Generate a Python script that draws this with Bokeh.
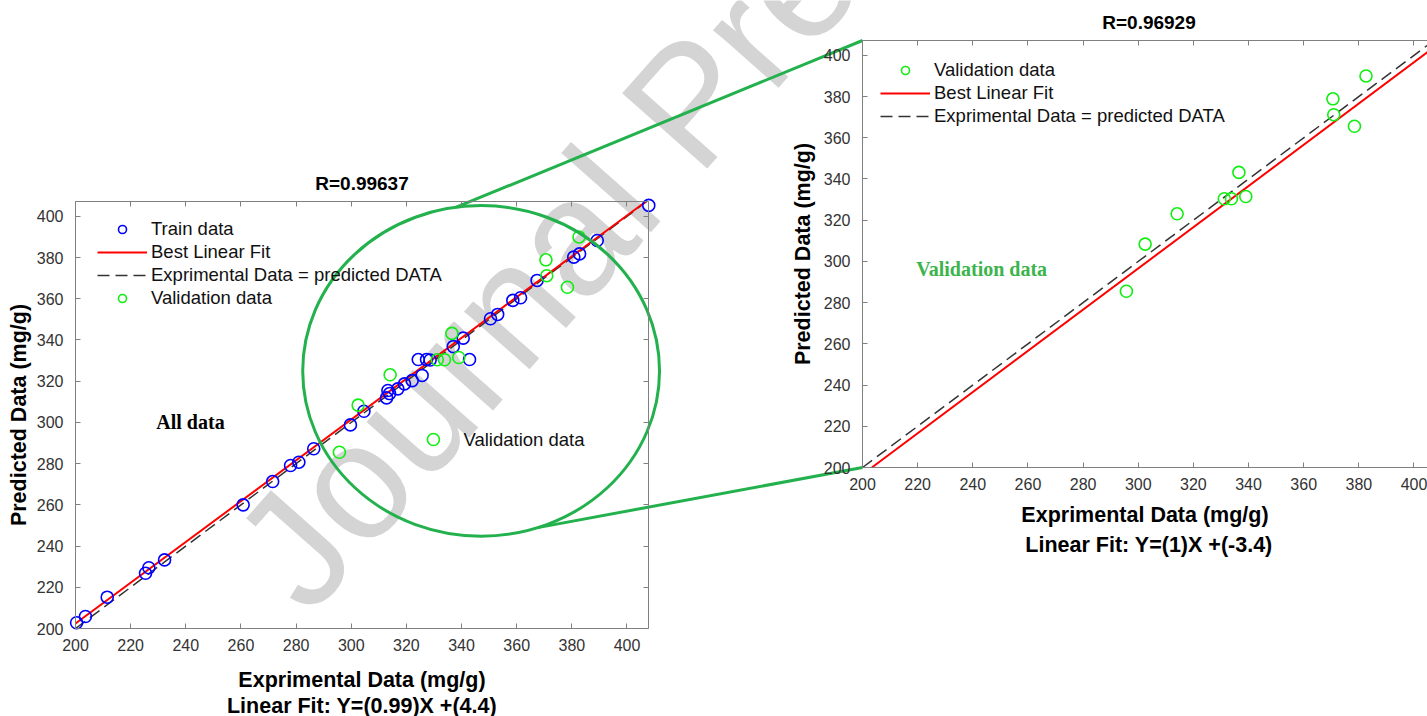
import math

from bokeh.embed import file_html
from bokeh.models import (FixedTicker, Grid, Label, Legend, LegendItem, LinearAxis,
                          Range1d)
from bokeh.plotting import figure
from bokeh.resources import INLINE
import numpy as np

# ---------------------------------------------------------------- data
# Training set: experimental vs. predicted uptake (mg/g)
TRAIN_X = [200.4, 203.6, 211.5, 225.4, 226.6, 232.3, 260.8, 271.5, 278.0, 281.0,
           286.4, 299.7, 304.6, 312.8, 313.3, 313.9, 316.9, 319.3, 322.1, 324.3,
           325.7, 327.3, 328.6, 337.0, 340.6, 342.9, 350.5, 353.1, 358.6, 361.4,
           367.4, 380.7, 382.8, 389.2, 407.9]
TRAIN_Y = [202.8, 205.8, 215.2, 226.8, 229.5, 233.3, 260.0, 271.3, 279.1, 280.7,
           287.2, 298.8, 305.4, 311.9, 315.5, 314.0, 316.3, 318.7, 320.3, 330.5,
           322.8, 330.5, 330.3, 336.8, 340.9, 330.5, 350.3, 352.4, 359.2, 360.5,
           368.9, 380.2, 381.8, 388.3, 405.3]

# Validation set
VAL_X = [295.7, 302.5, 314.1, 331.2, 333.8, 336.5, 339.0, 370.6, 370.9, 378.4, 382.6]
VAL_Y = [285.5, 308.4, 323.1, 330.4, 330.4, 343.2, 331.5, 378.9, 371.2, 365.6, 390.0]

TICKS = [200, 220, 240, 260, 280, 300, 320, 340, 360, 380, 400]
X_LIMITS = [200, 407.8]
Y_LIMITS = [200, 407.2]

R_ALL = "0.99637"
R_VAL = "0.96929"
FIT_ALL = [0.99, 4.4]     # slope, intercept
FIT_VAL = [1, -3.4]

# callout marker placed next to the "Validation data" note (left chart)
NOTE_MARK = [329.8, 291.7]

# ---------------------------------------------------------------- page layout
W, H = 1427, 716
BOX_W = 573                      # plot box size in pixels (both charts)
BOX_H = 427
SX = BOX_W / (X_LIMITS[1] - X_LIMITS[0])
SY = BOX_H / (Y_LIMITS[1] - Y_LIMITS[0])

LEFT_BOX = dict(left=75, bottom=628)
RIGHT_BOX = dict(left=862, bottom=467)

TITLE_GAP = 18        # title centre above the box
CAPTION_GAP = 77      # "Linear Fit" line centre below the box

SANS = "Liberation Sans"
SERIF = "Liberation Serif"
AXIS_GRAY = "#808080"
TICK_TEXT = "#333333"
BLUE = "#0000ff"
LIME = "#11ee11"
FIT_RED = "#ff0000"
ZOOM_GREEN = "#22b14c"
WATERMARK = "#d4d4d4"

# zoom ellipse around the validation cluster (left chart units)
ZOOM_CENTER = (347.1, 325.0)
ZOOM_RADII = (64.7, 80.2)
ZOOM_TOP_DEG = 98.0
ZOOM_BOTTOM_DEG = -71.5

WM_ANCHOR = (266, 580)     # page pixels, baseline start of the watermark
WM_ANGLE = 48.5
WM_SIZE = "165px"


def page_xy(box, x, y):
    return (box["left"] + (x - X_LIMITS[0]) * SX,
            box["bottom"] - (y - Y_LIMITS[0]) * SY)


def chart_ranges(box):
    xr = Range1d(X_LIMITS[0] - box["left"] / SX, X_LIMITS[0] + (W - box["left"]) / SX)
    yr = Range1d(Y_LIMITS[0] - (H - box["bottom"]) / SY, Y_LIMITS[0] + box["bottom"] / SY)
    return xr, yr


def style_axis(ax, show_labels, tick_standoff=10, label_standoff=12):
    ax.ticker = FixedTicker(ticks=TICKS, minor_ticks=[])
    ax.axis_line_color = AXIS_GRAY
    ax.axis_line_width = 1
    ax.major_tick_line_color = AXIS_GRAY
    ax.major_tick_in = 5
    ax.major_tick_out = 0
    ax.minor_tick_line_color = None
    if show_labels:
        ax.major_label_text_font = SANS
        ax.major_label_text_font_size = "16px"
        ax.major_label_text_color = TICK_TEXT
        ax.major_label_standoff = tick_standoff
        ax.axis_label_text_font = SANS
        ax.axis_label_text_font_size = "21.5px"
        ax.axis_label_text_font_style = "bold"
        ax.axis_label_text_color = "black"
        ax.axis_label_standoff = label_standoff
    else:
        ax.major_label_text_font_size = "0px"
        ax.major_label_standoff = 0


def add_chart_axes(p, xr, yr, with_right, x_label_standoff, y_label_standoff):
    bounds_x = (X_LIMITS[0], X_LIMITS[1])
    bounds_y = (Y_LIMITS[0], Y_LIMITS[1])
    bottom = LinearAxis(x_range_name=xr, y_range_name=yr, fixed_location=Y_LIMITS[0],
                        bounds=bounds_x, axis_label="Exprimental Data (mg/g)")
    style_axis(bottom, True, 10, x_label_standoff)
    p.add_layout(bottom, "below")
    left = LinearAxis(x_range_name=xr, y_range_name=yr, fixed_location=X_LIMITS[0],
                      bounds=bounds_y, axis_label="Predicted Data (mg/g)")
    style_axis(left, True, 12, y_label_standoff)
    p.add_layout(left, "left")
    top = LinearAxis(x_range_name=xr, y_range_name=yr, fixed_location=Y_LIMITS[1],
                     bounds=bounds_x)
    style_axis(top, False)
    p.add_layout(top, "above")
    if with_right:
        right = LinearAxis(x_range_name=xr, y_range_name=yr, fixed_location=X_LIMITS[1],
                           bounds=bounds_y)
        style_axis(right, False)
        p.add_layout(right, "right")


def fit_segment(fit):
    m, b = fit
    x0 = max(X_LIMITS[0], (Y_LIMITS[0] - b) / m)
    x1 = min(X_LIMITS[1], (Y_LIMITS[1] - b) / m)
    xs = np.array([x0, x1])
    return xs, m * xs + b


def identity_segment():
    xs = np.array([X_LIMITS[0], min(X_LIMITS[1], Y_LIMITS[1])])
    return xs, xs


def page_text(p, x, y, text, size, color="black", font=SANS, style="bold",
              align="center"):
    p.add_layout(Label(x=x, y=y, text=text, text_font=font, text_font_size=size,
                       text_font_style=style, text_color=color, text_align=align,
                       text_baseline="middle"))


def make_legend(items, loc):
    return Legend(items=items, location=loc, margin=0, padding=0,
                  spacing=1, glyph_width=50, glyph_height=20, label_height=20,
                  label_standoff=4, label_text_font=SANS,
                  label_text_font_size="18.5px", label_text_color="#111111",
                  border_line_color=None, background_fill_alpha=0)


# ---------------------------------------------------------------- canvas
p = figure(width=W, height=H, x_range=Range1d(0, W), y_range=Range1d(H, 0),
           x_axis_location=None, y_axis_location=None, min_border=0,
           output_backend="svg", toolbar_location=None)
p.outline_line_color = None
p.background_fill_color = "white"
p.border_fill_color = "white"
for g in p.select(type=Grid):
    g.visible = False

lx, ly = chart_ranges(LEFT_BOX)
rx, ry = chart_ranges(RIGHT_BOX)
p.extra_x_ranges = {"lx": lx, "rx": rx}
p.extra_y_ranges = {"ly": ly, "ry": ry}

# watermark, underneath everything else
p.add_layout(Label(x=WM_ANCHOR[0], y=WM_ANCHOR[1], text="Journal Pre-proof",
                   angle=math.radians(WM_ANGLE), text_font=SANS,
                   text_font_size=WM_SIZE, text_color=WATERMARK,
                   text_align="left", text_baseline="alphabetic", level="underlay"))

# ---------------------------------------------------------------- left chart: all data
L = dict(x_range_name="lx", y_range_name="ly")
add_chart_axes(p, "lx", "ly", True, 14, 3)

ix, iy = identity_segment()
r_id1 = p.line(ix, iy, line_color="#333333", line_width=1.5, line_dash="12 6", **L)
fx, fy = fit_segment(FIT_ALL)
r_fit1 = p.line(fx, fy, line_color=FIT_RED, line_width=2, **L)
r_train = p.scatter(TRAIN_X, TRAIN_Y, marker="circle", size=12, fill_color=None,
                    line_color=BLUE, line_width=1.6, **L)
r_val1 = p.scatter(VAL_X, VAL_Y, marker="circle", size=12, fill_color=None,
                   line_color=LIME, line_width=1.6, **L)
p.scatter([NOTE_MARK[0]], [NOTE_MARK[1]], marker="circle", size=12,
          fill_color=None, line_color=LIME, line_width=1.6, **L)

p.add_layout(make_legend([
    LegendItem(label="Train data", renderers=[r_train]),
    LegendItem(label="Best Linear Fit", renderers=[r_fit1]),
    LegendItem(label="Exprimental Data = predicted DATA", renderers=[r_id1]),
    LegendItem(label="Validation data", renderers=[r_val1]),
], (97, 407)))

p.add_layout(Label(x=241.7, y=300.4, text="All data", text_font=SERIF,
                   text_font_size="20px", text_font_style="bold",
                   text_color="black", text_align="center",
                   text_baseline="middle", **L))
p.add_layout(Label(x=NOTE_MARK[0] + 10.9, y=NOTE_MARK[1], text="Validation data",
                   text_font=SANS, text_font_size="18.5px", text_color="#111111",
                   text_align="left", text_baseline="middle", **L))

lcx = LEFT_BOX["left"] + BOX_W / 2
page_text(p, lcx, LEFT_BOX["bottom"] - BOX_H - TITLE_GAP, f"R={R_ALL}", "19px")
page_text(p, lcx, LEFT_BOX["bottom"] + CAPTION_GAP,
          f"Linear Fit: Y=({FIT_ALL[0]})X +({FIT_ALL[1]})", "21.5px")

# ---------------------------------------------------------------- right chart: validation
R = dict(x_range_name="rx", y_range_name="ry")
add_chart_axes(p, "rx", "ry", False, 10, 6)

ix, iy = identity_segment()
r_id2 = p.line(ix, iy, line_color="#333333", line_width=1.5, line_dash="12 6", **R)
fx, fy = fit_segment(FIT_VAL)
r_fit2 = p.line(fx, fy, line_color=FIT_RED, line_width=2, **R)
r_val2 = p.scatter(VAL_X, VAL_Y, marker="circle", size=12, fill_color=None,
                   line_color=LIME, line_width=1.6, **R)

p.add_layout(make_legend([
    LegendItem(label="Validation data", renderers=[r_val2]),
    LegendItem(label="Best Linear Fit", renderers=[r_fit2]),
    LegendItem(label="Exprimental Data = predicted DATA", renderers=[r_id2]),
], (880, 589)))

p.add_layout(Label(x=243.2, y=296.1, text="Validation data", text_font=SERIF,
                   text_font_size="20px", text_font_style="bold",
                   text_color="#3cb44b", text_align="center",
                   text_baseline="middle", **R))

rcx = RIGHT_BOX["left"] + BOX_W / 2
page_text(p, rcx, RIGHT_BOX["bottom"] - BOX_H - TITLE_GAP, f"R={R_VAL}", "19px")
page_text(p, rcx, RIGHT_BOX["bottom"] + CAPTION_GAP,
          f"Linear Fit: Y=({FIT_VAL[0]})X +({FIT_VAL[1]})", "21.5px")

# ---------------------------------------------------------------- zoom marker
cx, cy = ZOOM_CENTER
ra, rb = ZOOM_RADII
p.ellipse(x=[cx], y=[cy], width=[2 * ra], height=[2 * rb], fill_color=None,
          line_color=ZOOM_GREEN, line_width=3, **L)

top_pt = page_xy(LEFT_BOX, cx + ra * math.cos(math.radians(ZOOM_TOP_DEG)),
                 cy + rb * math.sin(math.radians(ZOOM_TOP_DEG)))
bot_pt = page_xy(LEFT_BOX, cx + ra * math.cos(math.radians(ZOOM_BOTTOM_DEG)),
                 cy + rb * math.sin(math.radians(ZOOM_BOTTOM_DEG)))
corner_top = page_xy(RIGHT_BOX, X_LIMITS[0], Y_LIMITS[1])
corner_bot = page_xy(RIGHT_BOX, X_LIMITS[0], Y_LIMITS[0])
p.segment(x0=[top_pt[0], bot_pt[0]], y0=[top_pt[1], bot_pt[1]],
          x1=[corner_top[0], corner_bot[0]], y1=[corner_top[1], corner_bot[1]],
          line_color=ZOOM_GREEN, line_width=3)

open("out.html", "w").write(file_html(p, INLINE))
